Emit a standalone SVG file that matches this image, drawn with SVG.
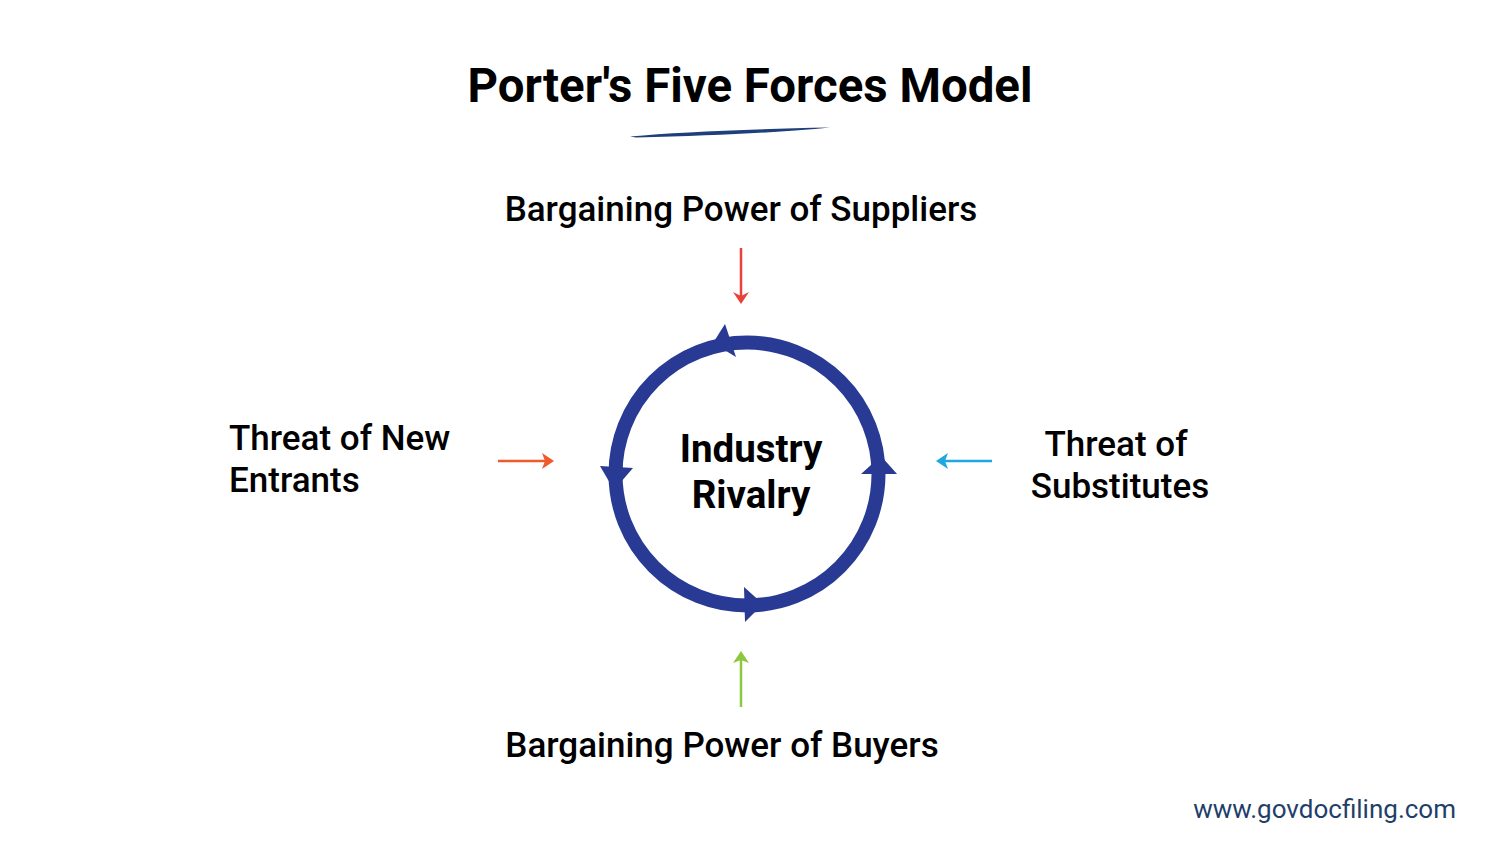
<svg xmlns="http://www.w3.org/2000/svg" width="1500" height="855" viewBox="0 0 1500 855">
<defs>
<style>
.t{font-family:Roboto,"Liberation Sans",Arial,sans-serif;fill:#000;}
.lbl{font-size:35px;font-weight:500;}
</style>
</defs>
<rect width="1500" height="855" fill="#fff"/>
<g id="title">
<text class="t" x="750" y="102" text-anchor="middle" font-size="48" font-weight="700" textLength="565" lengthAdjust="spacingAndGlyphs">Porter's Five Forces Model</text>
<path d="M630,136.5 Q700,130 830,127.5 Q760,134.5 636,137.5 Z" fill="#1f3f7a"/>
</g>
<g id="rivalry">
<circle cx="747" cy="474" r="131.5" fill="none" stroke="#283a93" stroke-width="14"/>
<polygon points="725,324 713,343 736,357" fill="#283a93"/>
<polygon points="600,466 633,468 614,490" fill="#283a93"/>
<polygon points="744,587 745,622 763,604" fill="#283a93"/>
<polygon points="861,474 897,474 881,456" fill="#283a93"/>
<text class="t" x="751" y="462" text-anchor="middle" font-size="38.5" font-weight="700">Industry</text>
<text class="t" x="751" y="508" text-anchor="middle" font-size="38.5" font-weight="700">Rivalry</text>
</g>
<g id="suppliers"><text class="t lbl" x="741" y="221" text-anchor="middle">Bargaining Power of Suppliers</text></g>
<g id="buyers"><text class="t lbl" x="722" y="757" text-anchor="middle">Bargaining Power of Buyers</text></g>
<g id="entrants"><text class="t lbl" x="229" y="450">Threat of New</text><text class="t lbl" x="229" y="492">Entrants</text></g>
<g id="substitutes"><text class="t lbl" x="1116" y="456" text-anchor="middle">Threat of</text><text class="t lbl" x="1120" y="498" text-anchor="middle">Substitutes</text></g>
<g id="connectors">
<line x1="741" y1="248" x2="741" y2="298" stroke="#e8413a" stroke-width="2.5"/>
<path d="M733,292 L741,304 L749,292 L741,296 Z" fill="#e8413a"/>
<line x1="498" y1="461" x2="548" y2="461" stroke="#f05a2a" stroke-width="2.5"/>
<path d="M542,453 L554,461 L542,469 L545,461 Z" fill="#f05a2a"/>
<line x1="992" y1="461" x2="942" y2="461" stroke="#1ea7e1" stroke-width="2.5"/>
<path d="M948,453 L936,461 L948,469 L945,461 Z" fill="#1ea7e1"/>
<line x1="741" y1="707" x2="741" y2="657" stroke="#8dc63f" stroke-width="2.5"/>
<path d="M733,663 L741,651 L749,663 L741,660 Z" fill="#8dc63f"/>
</g>
<g id="footer"><text class="t" x="1456" y="818" text-anchor="end" font-size="26" style="fill:#1f3f6a">www.govdocfiling.com</text></g>
</svg>
